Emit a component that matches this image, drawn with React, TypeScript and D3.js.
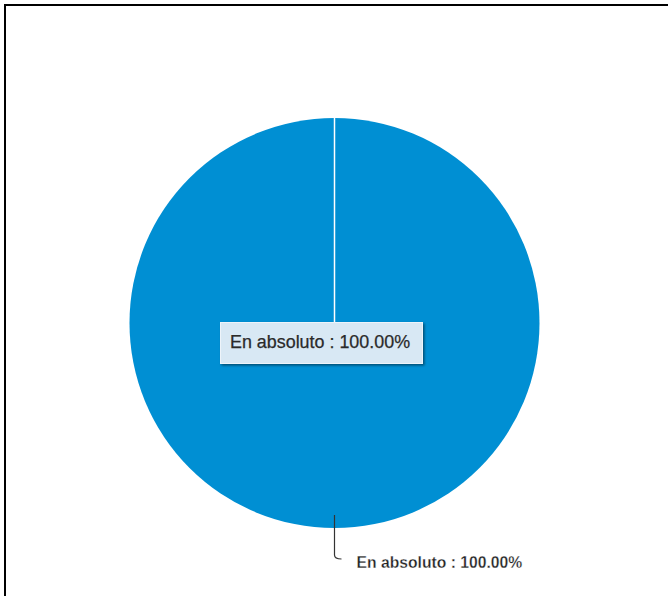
import React from "react";
import * as d3 from "d3";

const categories: string[] = ["En absoluto"];
const values: number[] = [100];
const colors: string[] = ["#008fd3"];

const W = 668;
const H = 596;
const CX = 334.5;
const CY = 323;
const R = 205;

export default function App() {
  const pie = d3.pie<number>().sort(null).value((d) => d)(values);
  const arc = d3.arc<d3.PieArcDatum<number>>().innerRadius(0).outerRadius(R);
  const total = d3.sum(values);
  const fmt = (v: number) => ((v / total) * 100).toFixed(2) + "%";

  return (
    <svg
      width={W}
      height={H}
      style={{ position: "absolute", left: 0, top: 0, background: "#fff" }}
      fontFamily="'Liberation Sans', Arial, sans-serif"
    >
      <defs>
        <filter id="shadow" x="-10%" y="-20%" width="130%" height="160%">
          <feDropShadow dx="1.5" dy="1.5" stdDeviation="1.2" floodColor="#000" floodOpacity="0.45" />
        </filter>
      </defs>
      <rect x={5} y={5} width={800} height={800} fill="none" stroke="#000" strokeWidth={2} />
      <g transform={`translate(${CX},${CY})`}>
        {pie.map((p, i) => (
          <g key={i}>
            <path d={arc(p) || ""} fill={colors[i % colors.length]} />
            <line
              x1={0}
              y1={0}
              x2={R * Math.sin(p.startAngle)}
              y2={-R * Math.cos(p.startAngle)}
              stroke="#ffffff"
              strokeWidth={1.5}
            />
          </g>
        ))}
        {pie.map((p, i) => {
          const mid = (p.startAngle + p.endAngle) / 2;
          const sx = (R - 13) * Math.sin(mid);
          const sy = -(R - 13) * Math.cos(mid);
          const ex = (R + 27) * Math.sin(mid);
          const ey = -(R + 27) * Math.cos(mid);
          return (
            <g key={"l" + i}>
              <path
                d={`M${sx},${sy} L${ex},${ey} Q${ex},${ey + 4} ${ex + 7},${ey + 4}`}
                fill="none"
                stroke="#333"
                strokeWidth={1.2}
              />
              <text
                x={ex + 22}
                y={ey + 13}
                fontSize={15.7}
                fontWeight="bold"
                fill="#222"
                stroke="#fff"
                strokeWidth={0.3}
              >
                {categories[i]} : {fmt(p.value)}
              </text>
            </g>
          );
        })}
      </g>
      <g filter="url(#shadow)">
        <rect x={220.5} y={322.5} width={202} height={41} fill="#d8e8f4" stroke="#eef4fa" strokeWidth={1} />
      </g>
      <text x={230} y={348} fontSize={17.9} fill="#2a2a2a" stroke="#2a2a2a" strokeWidth={0.25}>
        {categories[0]} : {fmt(values[0])}
      </text>
    </svg>
  );
}
